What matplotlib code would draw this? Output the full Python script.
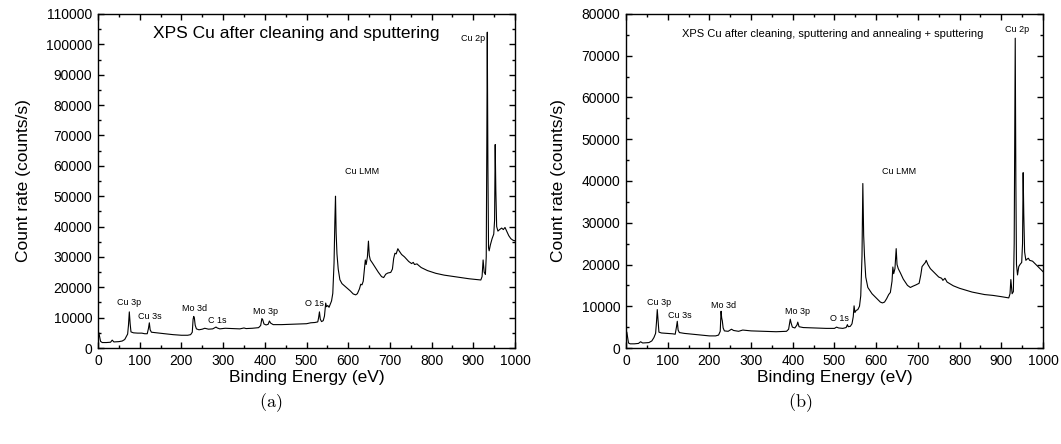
import matplotlib
matplotlib.use('Agg')
import matplotlib.pyplot as plt
from matplotlib.ticker import MultipleLocator

plt.rcParams['font.family'] = ['Liberation Sans', 'DejaVu Sans']
plt.rcParams['mathtext.fontset'] = 'cm'

# spectrum (a): after cleaning and sputtering
energy_a = [0, 2, 4, 6, 10, 20, 30, 34, 38, 50, 58, 64, 68, 71, 73, 75, 77, 79, 85, 95,
            105, 112, 118, 121, 123, 125, 128, 140, 160, 180, 200, 215, 222, 226, 228, 229.5,
            231, 233, 236, 242, 250, 256, 265, 275, 283, 286, 292, 305, 320, 340, 350, 355,
            370, 385, 390, 393, 395, 398, 403, 408, 411, 414, 420, 440, 460, 480, 500, 510,
            520, 527, 529, 531, 533, 536, 540, 543, 546, 548, 551, 554, 557, 560, 563, 566,
            568, 569.5, 571, 573, 576, 580, 585, 595, 605, 612, 618, 622, 627, 630, 633, 636,
            639, 641, 643, 646, 648.5, 650.5, 653, 658, 665, 672, 680, 685, 690, 695, 702,
            706, 709, 712, 715, 719, 722, 728, 735, 745, 752, 756, 759, 765, 768, 775, 790,
            810, 830, 850, 870, 890, 905, 918, 921, 923.5, 926, 929, 931, 932.5, 933.5, 935,
            936.5, 938, 941, 945, 949, 951, 952.5, 954, 956, 959, 963, 968, 972, 976, 980,
            985, 990, 995, 1000]
counts_a = [5300, 5000, 3500, 2200, 1800, 1800, 1900, 2600, 2000, 2100, 2300, 2800, 3800,
            4600, 7500, 11900, 8000, 5300, 5000, 4900, 4900, 4700, 4700, 6500, 8300, 6000,
            5200, 5000, 4700, 4400, 4200, 4200, 4400, 5200, 9500, 10400, 9900, 7500, 6300,
            6000, 6200, 6500, 6200, 6300, 6900, 6600, 6300, 6500, 6400, 6300, 6600, 6400,
            6500, 6700, 7400, 9700, 9300, 7900, 7600, 7800, 8900, 8200, 7700, 7700, 7800,
            7900, 8000, 8300, 8400, 8600, 10000, 11900, 9500, 8700, 9000, 10500, 14800,
            13600, 14000, 13400, 14500, 15500, 18000, 28000, 42000, 50000, 38000, 31000,
            26000, 22500, 21200, 20000, 18800, 17800, 17500, 17900, 19500, 21000, 20800,
            22000, 26000, 29000, 27500, 30000, 35200, 30500, 29000, 28000, 26500, 25000,
            23500, 23200, 24300, 24700, 24900, 26000, 29500, 31200, 31000, 32700, 32000,
            30800, 30000, 28500, 27800, 28200, 27500, 27700, 27300, 26500, 25500, 24600,
            24000, 23600, 23200, 22800, 22600, 22400, 23500, 29000, 25000, 24200, 30000,
            70000, 104000, 60000, 33000, 32000, 34000, 36000, 37500, 42000, 67000, 52000,
            40000, 38500, 39000, 39500, 39000, 39700, 38500, 37000, 36000, 35500, 35300]

# spectrum (b): after cleaning, sputtering and annealing + sputtering
energy_b = [0, 2, 4, 6, 10, 20, 30, 35, 40, 55, 62, 67, 71, 73, 75, 77, 79, 85, 100, 112,
            118, 121, 123, 125, 128, 140, 160, 180, 200, 215, 222, 226, 228, 229.5, 231, 233,
            236, 245, 253, 258, 270, 280, 290, 300, 330, 360, 385, 390, 394, 396, 399, 405,
            410, 412, 415, 425, 450, 480, 500, 505, 510, 520, 528, 531, 533, 538, 542, 545,
            547, 549, 552, 556, 560, 563, 566, 568, 570, 572, 575, 580, 590, 600, 610, 615,
            620, 625, 630, 634, 638, 640, 642, 645, 648, 650, 653, 658, 665, 675, 682, 688,
            695, 703, 707, 710, 714, 718, 720, 724, 730, 740, 750, 757, 760, 765, 770, 785,
            800, 830, 860, 880, 900, 918, 921, 923, 926, 929, 931, 932.5, 933.5, 935, 936.5,
            939, 942, 945, 949, 951, 952.5, 954, 956, 959, 962, 965, 968, 975, 985, 995, 1000]
counts_b = [4000, 3800, 2500, 1200, 1000, 1000, 1100, 1500, 1200, 1300, 1700, 2500, 3500,
            6000, 9200, 6500, 3800, 3600, 3500, 3400, 3300, 5000, 6400, 4300, 3700, 3500,
            3300, 3100, 2900, 2900, 3100, 4000, 8800, 7200, 6500, 4800, 4100, 4000, 4500,
            4200, 4000, 4300, 4200, 4100, 4000, 3900, 4000, 4500, 6900, 6000, 5000, 4800,
            5500, 6200, 5100, 4900, 4800, 4700, 4700, 5000, 4800, 4700, 4900, 5600, 5100,
            5200, 5800, 7500, 10100, 8500, 9000, 9200, 10000, 12500, 22000, 39400, 27000,
            22000, 17000, 14500, 13000, 12000, 11000, 10800, 11000, 11800, 12800, 13300,
            16000, 19400, 17800, 19000, 23800, 20000, 19000, 18000, 16500, 15000, 14500,
            14800, 15100, 15500, 17500, 19500, 20000, 20500, 21000, 20000, 19000, 18000,
            17000, 16700, 16200, 16700, 15800, 14900, 14300, 13400, 12800, 12600, 12300,
            12000, 13000, 16400, 13000, 13500, 25000, 55000, 74200, 40000, 20000, 17500,
            19500, 20000, 20500, 25000, 42000, 32000, 23000, 21000, 21300, 21500, 21000,
            20800, 19800, 18800, 18300]

# peak labels: (text, energy, counts)
labels_a = [('Cu 3p', 75, 15000), ('Cu 3s', 124, 10500), ('Mo 3d', 231, 13100),
            ('C 1s', 287, 9000), ('Mo 3p', 402, 12000), ('O 1s', 519, 14800),
            ('Cu LMM', 632, 58000), ('Cu 2p', 899, 102000)]
labels_b = [('Cu 3p', 79, 10800), ('Cu 3s', 128, 7800), ('Mo 3d', 235, 10200),
            ('Mo 3p', 412, 8800), ('O 1s', 513, 7000), ('Cu LMM', 656, 42200),
            ('Cu 2p', 938, 76400)]

fig = plt.figure(figsize=(10.61, 4.44), dpi=100)
ax1 = fig.add_axes([0.0924, 0.2162, 0.3930, 0.7523])
ax2 = fig.add_axes([0.5900, 0.2162, 0.3930, 0.7523])


def style(ax, ymax):
    ax.set_xlim(0, 1000)
    ax.set_ylim(0, ymax)
    ax.xaxis.set_major_locator(MultipleLocator(100))
    ax.xaxis.set_minor_locator(MultipleLocator(50))
    ax.yaxis.set_major_locator(MultipleLocator(10000))
    ax.yaxis.set_minor_locator(MultipleLocator(5000))
    ax.tick_params(which='both', direction='in', top=True, right=True, width=1.0)
    ax.tick_params(which='major', length=4, labelsize=10, pad=4)
    ax.tick_params(which='minor', length=2.2)
    for s in ax.spines.values():
        s.set_linewidth(1.0)
    ax.set_xlabel('Binding Energy (eV)', fontsize=12.5, labelpad=2)
    ax.set_ylabel('Count rate (counts/s)', fontsize=12.5, labelpad=11)


ax1.plot(energy_a, counts_a, color='black', linewidth=0.8)
style(ax1, 110000)
for txt, x, y in labels_a:
    ax1.text(x, y, txt, fontsize=6.5, ha='center', va='center')
ax1.text(476, 103500, 'XPS Cu after cleaning and sputtering', fontsize=12.5,
         ha='center', va='center')

ax2.plot(energy_b, counts_b, color='black', linewidth=0.8)
style(ax2, 80000)
for txt, x, y in labels_b:
    ax2.text(x, y, txt, fontsize=6.5, ha='center', va='center')
ax2.text(495, 75300, 'XPS Cu after cleaning, sputtering and annealing + sputtering',
         fontsize=8, ha='center', va='center')

fig.text(271 / 1061, 1 - 403 / 444, r'$\mathrm{(a)}$', fontsize=13, ha='center', va='center')
fig.text(800 / 1061, 1 - 403 / 444, r'$\mathrm{(b)}$', fontsize=13, ha='center', va='center')

fig.savefig('out.png', dpi=100)
